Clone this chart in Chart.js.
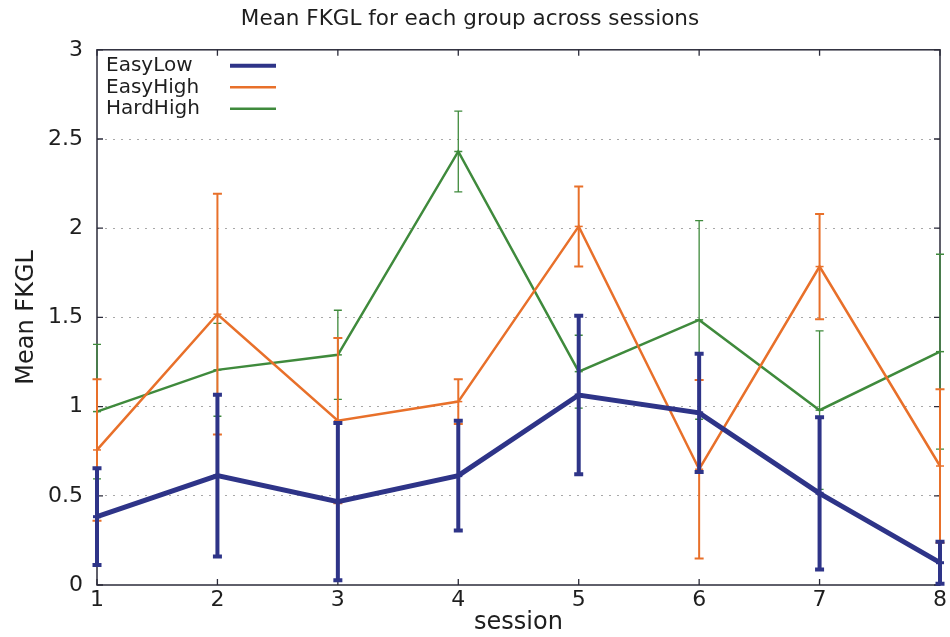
<!DOCTYPE html>
<html>
<head>
<meta charset="utf-8">
<script src="https://cdn.jsdelivr.net/npm/chart.js@4.4.1/dist/chart.umd.min.js"></script>
<style>
  html, body { margin: 0; padding: 0; background: #ffffff; }
  #wrap { width: 950px; height: 637px; position: relative; }
</style>
</head>
<body>
<div id="wrap"><canvas id="c"></canvas></div>
<script>
// ---- data ----
const sessions = ['1', '2', '3', '4', '5', '6', '7', '8'];
const seriesNames = ['EasyLow', 'EasyHigh', 'HardHigh'];
const easyLow      = [0.383, 0.613, 0.467, 0.613, 1.065, 0.965, 0.514, 0.125];
const easyLowErr   = [0.271, 0.453, 0.441, 0.307, 0.444, 0.331, 0.427, 0.118];
const easyHigh     = [0.757, 1.518, 0.921, 1.028, 2.010, 0.649, 1.785, 0.667];
const easyHighErr  = [0.397, 0.675, 0.463, 0.125, 0.224, 0.500, 0.295, 0.430];
const hardHigh     = [0.972, 1.206, 1.290, 2.430, 1.196, 1.486, 0.980, 1.308];
const hardHighErr  = [0.377, 0.260, 0.250, 0.226, 0.204, 0.557, 0.444, 0.546];
const yTicks = [0, 0.5, 1, 1.5, 2, 2.5, 3];
const yTickLabels = ['0', '0.5', '1', '1.5', '2', '2.5', '3'];

const FONT = "'DejaVu Sans', 'Liberation Sans', sans-serif";
const COLORS = ['#2e3488', '#e8702a', '#3f8a3c'];
const LINE_W = [5, 2.5, 2.5];
const ERR_W = [4, 2, 1.3];
const CAP_HALF = [4.5, 4.5, 4];
const TEXT = '#1e1e1e';

// error bars drawn through the chart's own scales
const errorBarPlugin = {
  id: 'errorBars',
  afterDatasetDraw(chart, args) {
    const ds = chart.data.datasets[args.index];
    if (!ds.errors) return;
    const yScale = chart.scales.y;
    const ctx = chart.ctx;
    ctx.save();
    ctx.strokeStyle = ds.borderColor;
    ctx.lineWidth = ds.errWidth;
    ctx.lineCap = 'butt';
    args.meta.data.forEach((pt, i) => {
      const v = ds.data[i], e = ds.errors[i];
      const yTop = yScale.getPixelForValue(v + e);
      const yBot = yScale.getPixelForValue(v - e);
      const x = pt.x, c = ds.capHalf;
      ctx.beginPath();
      ctx.moveTo(x, yTop); ctx.lineTo(x, yBot);
      ctx.moveTo(x - c, yTop); ctx.lineTo(x + c, yTop);
      ctx.moveTo(x - c, yBot); ctx.lineTo(x + c, yBot);
      ctx.stroke();
    });
    ctx.restore();
  }
};

// frame with inward tick marks on all four sides
const framePlugin = {
  id: 'frame',
  beforeDatasetsDraw(chart) {
    const {ctx, chartArea: a, scales} = chart;
    ctx.save();
    ctx.strokeStyle = '#2b2b3a';
    ctx.lineWidth = 1.5;
    ctx.strokeRect(a.left, a.top, a.right - a.left, a.bottom - a.top);
    ctx.lineWidth = 1.3;
    const tl = 6;
    ctx.beginPath();
    scales.x.ticks.forEach((t, i) => {
      const x = scales.x.getPixelForTick(i);
      ctx.moveTo(x, a.bottom); ctx.lineTo(x, a.bottom - tl);
      ctx.moveTo(x, a.top); ctx.lineTo(x, a.top + tl);
    });
    scales.y.ticks.forEach((t) => {
      const y = scales.y.getPixelForValue(t.value);
      ctx.moveTo(a.left, y); ctx.lineTo(a.left + tl, y);
      ctx.moveTo(a.right, y); ctx.lineTo(a.right - tl, y);
    });
    ctx.stroke();
    ctx.restore();
  }
};

// legend: text on the left, line sample on the right (inside plot, top-left)
const legendPlugin = {
  id: 'innerLegend',
  afterDraw(chart) {
    const {ctx, chartArea: a} = chart;
    ctx.save();
    ctx.font = '20px ' + FONT;
    ctx.textBaseline = 'middle';
    ctx.textAlign = 'left';
    chart.data.datasets.forEach((ds, i) => {
      const y = a.top + 16 + i * 21.5;
      ctx.fillStyle = TEXT;
      ctx.fillText(ds.label, a.left + 9, y);
      ctx.strokeStyle = ds.borderColor;
      ctx.lineWidth = i === 0 ? 4 : 2.5;
      ctx.beginPath();
      ctx.moveTo(a.left + 133, y); ctx.lineTo(a.left + 179, y);
      ctx.stroke();
    });
    ctx.restore();
  }
};

const seriesValues = [easyLow, easyHigh, hardHigh];
const seriesErrors = [easyLowErr, easyHighErr, hardHighErr];

const datasets = seriesNames.map((name, i) => ({
  label: name,
  data: seriesValues[i],
  errors: seriesErrors[i],
  errWidth: ERR_W[i],
  capHalf: CAP_HALF[i],
  borderColor: COLORS[i],
  backgroundColor: COLORS[i],
  borderWidth: LINE_W[i],
  tension: 0,
  fill: false,
  pointStyle: 'line',
  pointRadius: 4,
  pointBorderWidth: i === 0 ? 3 : 1.5,
  pointBorderColor: COLORS[i],
  clip: false
}));

new Chart(document.getElementById('c'), {
  type: 'line',
  data: { labels: sessions, datasets },
  options: {
    responsive: true,
    maintainAspectRatio: false,
    animation: false,
    layout: { padding: { left: 0, right: 10, top: 0, bottom: 0 } },
    plugins: {
      legend: { display: false },
      tooltip: { enabled: false },
      title: {
        display: true,
        text: 'Mean FKGL for each group across sessions',
        color: TEXT,
        font: { family: FONT, size: 21.5, weight: 'normal' },
        padding: { top: 7, bottom: 17 }
      }
    },
    scales: {
      x: {
        type: 'category',
        offset: false,
        grid: { display: false, drawTicks: false },
        border: { display: false },
        ticks: { color: TEXT, font: { family: FONT, size: 22 }, padding: 2, maxRotation: 0, autoSkip: false },
        title: {
          display: true, text: 'session', color: TEXT,
          font: { family: FONT, size: 24, weight: 'normal' },
          padding: { top: -8, bottom: 0 }
        },
        afterFit(scale) { scale.height = 52; }
      },
      y: {
        type: 'linear',
        min: yTicks[0],
        max: yTicks[yTicks.length - 1],
        afterBuildTicks(scale) { scale.ticks = yTicks.map(v => ({ value: v })); },
        grid: {
          drawTicks: false,
          lineWidth: 1,
          color: (c) => (c.tick && (c.tick.value === 0 || c.tick.value === 3)) ? 'rgba(0,0,0,0)' : '#a8a8a8'
        },
        border: { display: false, dash: [2, 6] },
        ticks: {
          color: TEXT, font: { family: FONT, size: 22 }, padding: 14,
          callback: (v) => { const k = yTicks.indexOf(v); return k >= 0 ? yTickLabels[k] : String(v); }
        },
        title: {
          display: true, text: 'Mean FKGL', color: TEXT,
          font: { family: FONT, size: 24, weight: 'normal' },
          padding: { top: 12, bottom: 0 }
        },
        afterFit(scale) { scale.width = 97; }
      }
    }
  },
  plugins: [framePlugin, errorBarPlugin, legendPlugin]
});
</script>
</body>
</html>
